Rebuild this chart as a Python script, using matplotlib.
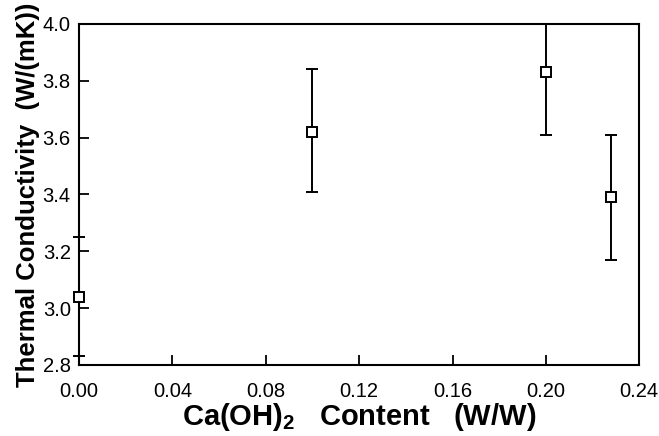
import matplotlib
matplotlib.use("Agg")
import matplotlib.pyplot as plt
from matplotlib.patches import Rectangle

# Data
content = [0.00, 0.10, 0.20, 0.228]
conductivity = [3.04, 3.62, 3.83, 3.39]
err_low = [0.21, 0.21, 0.22, 0.22]
err_high = [0.21, 0.22, 0.22, 0.22]
xticks = [0.00, 0.04, 0.08, 0.12, 0.16, 0.20, 0.24]
xticklabels = ["0.00", "0.04", "0.08", "0.12", "0.16", "0.20", "0.24"]
yticks = [2.8, 3.0, 3.2, 3.4, 3.6, 3.8, 4.0]
yticklabels = ["2.8", "3.0", "3.2", "3.4", "3.6", "3.8", "4.0"]

plt.rcParams['font.family'] = ['Liberation Sans', 'DejaVu Sans']
plt.rcParams['mathtext.fontset'] = 'custom'
plt.rcParams['mathtext.rm'] = 'Liberation Sans:bold'
plt.rcParams['mathtext.it'] = 'Liberation Sans:bold'
plt.rcParams['mathtext.bf'] = 'Liberation Sans:bold'

fig = plt.figure(figsize=(6.59, 4.36), dpi=100)
ax = fig.add_axes([0.12, 0.163, 0.85, 0.782])

cont = ax.errorbar(content, conductivity, yerr=[err_low, err_high],
                   fmt='s', color='black', markerfacecolor='white',
                   markeredgecolor='black', markersize=7, markeredgewidth=1.4,
                   elinewidth=1.4, capsize=4.5, capthick=1.4, zorder=3)

ax.set_xlim(0, 0.24)
ax.set_ylim(2.8, 4.0)

clip = Rectangle((-0.05, 0), 1.1, 1, transform=ax.transAxes)
for art in [cont.lines[0]] + list(cont.lines[1]) + list(cont.lines[2]):
    art.set_clip_on(True)
    art.set_clip_path(clip)

ax.set_xticks(xticks)
ax.set_xticklabels(xticklabels)
ax.set_yticks(yticks)
ax.set_yticklabels(yticklabels)
ax.tick_params(direction='in', length=7, width=1.3, labelsize=14.5,
               top=False, right=False)
ax.tick_params(axis='x', pad=12)
ax.tick_params(axis='y', pad=6)
for s in ax.spines.values():
    s.set_linewidth(1.5)

ax.set_xlabel("Ca(OH)$_2$   Content   (W/W)", fontsize=21, fontweight='bold', labelpad=0)
ax.set_ylabel("Thermal Conductivity  (W/(mK))", fontsize=18.5, fontweight='bold', labelpad=2)

fig.savefig("out.png", dpi=100)
